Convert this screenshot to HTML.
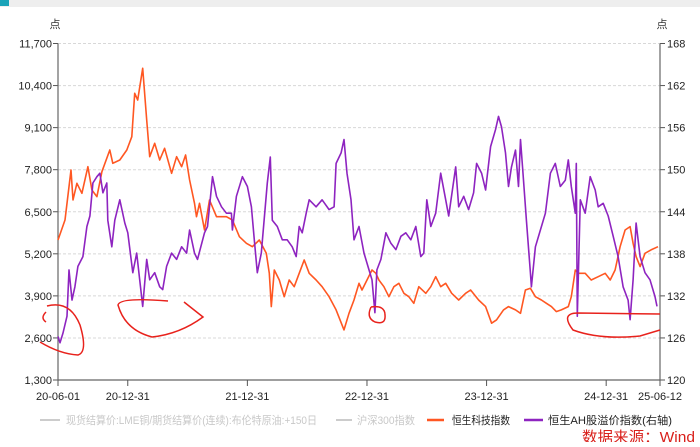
<!DOCTYPE html>
<html><head><meta charset="utf-8"><style>
html,body{margin:0;padding:0;background:#fff;}
body{width:700px;height:442px;overflow:hidden;font-family:"Liberation Sans","Noto Sans CJK SC",sans-serif;}
</style></head><body>
<svg id="chart" width="700" height="442" viewBox="0 0 700 442" xmlns="http://www.w3.org/2000/svg" style="font-family:'Liberation Sans','Noto Sans CJK SC',sans-serif">
<rect x="0" y="0" width="700" height="7" fill="#eeeeee"/>
<rect x="0" y="0" width="9" height="6" fill="#1aa3b8"/>
<g id="grid"></g>
<g id="axes"></g>
<g id="series"></g>
<g id="notes" fill="none" stroke="#e8221c" stroke-width="1.5">
<path d="M46,312 Q40,318 46,322 M47,306 Q70,300 80,325 Q88,352 78,355 Q60,354 40,342"/>
<path d="M168,301 Q120,297 118,305 Q125,330 152,337 Q180,334 203,317 L184,302"/>
<path d="M371,307 Q385,305 385,315 Q386,325 375,322 Q366,318 371,307"/>
<path d="M578,313 Q560,313 573,330 Q600,340 640,336 L660,330 M578,313 L660,314"/>
</g>
<g id="legend" font-size="11">
<line x1="40" y1="420" x2="60" y2="420" stroke="#cccccc" stroke-width="2"/>
<text x="66" y="424" fill="#c8c8c8" textLength="251" lengthAdjust="spacingAndGlyphs">现货结算价:LME铜/期货结算价(连续):布伦特原油:+150日</text>
<line x1="336" y1="420" x2="352" y2="420" stroke="#cccccc" stroke-width="2"/>
<text x="357" y="424" fill="#c8c8c8" textLength="58" lengthAdjust="spacingAndGlyphs">沪深300指数</text>
<line x1="427" y1="420" x2="444" y2="420" stroke="#ff5722" stroke-width="2.5"/>
<text x="452" y="424" fill="#222" textLength="58" lengthAdjust="spacingAndGlyphs">恒生科技指数</text>
<line x1="524" y1="420" x2="543" y2="420" stroke="#8e24c0" stroke-width="2.5"/>
<text x="548" y="424" fill="#222" textLength="124" lengthAdjust="spacingAndGlyphs">恒生AH股溢价指数(右轴)</text>
</g>
<text x="582" y="442" font-size="15" fill="#d9201b" textLength="113" lengthAdjust="spacingAndGlyphs">数据来源：Wind</text>
<text x="55" y="28" font-size="11" fill="#333" text-anchor="middle">点</text>
<text x="662" y="28" font-size="11" fill="#333" text-anchor="middle">点</text>
</svg>
<script>
const leftTicks=[1300,2600,3900,5200,6500,7800,9100,10400,11700];
const rightTicks=[120,126,132,138,144,150,156,162,168];
const dateLabels=["20-06-01","20-12-31","21-12-31","22-12-31","23-12-31","24-12-31","25-06-12"];
const dateMonths=[0,7,19,31,43,55,60.4];
// months since 2020-06-01
const techMonths=[0,0.7,1.3,1.5,1.9,2.4,3.0,3.4,3.9,4.4,5.2,5.5,6.2,6.9,7.4,7.7,8.0,8.5,8.9,9.2,9.7,10.2,10.7,11.4,11.9,12.4,12.8,13.2,13.7,13.9,14.2,14.7,15.2,15.9,16.9,17.5,18.2,18.9,19.5,20.2,20.9,21.2,21.4,21.7,22.2,22.7,23.2,23.7,24.2,24.7,25.2,25.9,26.5,27.2,27.9,28.7,29.2,29.7,30.2,30.5,31.0,31.5,31.9,32.2,32.7,33.2,33.7,34.2,34.7,35.2,35.7,36.2,36.9,37.4,37.9,38.4,38.9,39.5,40.2,40.9,41.4,42.2,42.9,43.5,44.0,44.7,45.2,45.9,46.4,46.9,47.4,47.9,48.5,49.0,49.5,50.0,50.5,51.2,51.5,51.9,52.2,52.9,53.5,54.2,54.9,55.4,55.9,56.4,56.9,57.4,57.7,58.0,58.4,58.9,59.5,60.2];
const techValues=[5628,6246,7791,6864,7380,7071,7893,7173,6966,7739,8409,7998,8100,8409,8820,10161,9954,10934,9336,8202,8616,8100,8461,7689,8202,7893,8255,7482,6762,6348,6762,5937,6864,6348,6348,6246,5730,5526,5421,5628,5217,4599,3567,4701,4392,3876,4392,4185,4599,5010,4599,4392,4185,3876,3465,2847,3363,3774,4290,4083,4392,4701,4599,4392,4185,3876,4185,4290,3981,3876,3672,4185,3981,4185,4494,4185,4290,3981,3774,3981,4083,3774,3567,3054,3156,3465,3567,3465,3363,4083,4134,3876,3774,3672,3567,3414,3465,3567,3876,4701,4599,4599,4392,4494,4599,4392,4701,5421,5937,6040,5526,5114,4804,5217,5320,5421];
const ahMonths=[0,0.2,0.5,0.9,1.1,1.4,1.7,2.0,2.5,2.9,3.2,3.5,3.9,4.2,4.5,4.9,5.0,5.4,5.7,6.2,6.7,7.0,7.5,7.9,8.2,8.5,8.9,9.2,9.7,10.2,10.5,10.9,11.4,11.9,12.4,12.9,13.2,13.7,14.0,14.7,15.0,15.5,15.9,16.4,16.9,17.4,17.5,17.9,18.5,19.0,19.4,19.7,20.0,20.4,21.0,21.3,21.5,22.0,22.5,23.0,23.5,23.9,24.2,24.5,24.9,25.2,25.9,26.5,27.2,27.7,27.9,28.4,28.7,29.0,29.4,29.7,30.2,30.7,31.2,31.5,31.8,32.0,32.4,32.9,33.4,33.9,34.4,34.9,35.4,35.9,36.4,36.7,37.0,37.4,37.9,38.4,38.9,39.2,39.9,40.2,40.7,41.2,41.7,42.0,42.5,42.9,43.4,43.9,44.2,44.5,44.9,45.2,45.5,45.9,46.2,46.4,46.7,47.0,47.4,47.5,47.9,48.4,48.9,49.4,49.9,50.4,50.9,51.2,51.5,51.9,52.0,52.1,52.4,52.9,53.4,53.9,54.2,54.7,55.2,55.7,56.2,56.7,57.2,57.4,57.7,58.0,58.4,58.9,59.4,59.9,60.1];
const ahValues=[126.2,125.3,126.7,129.1,135.7,131.4,133.3,136.2,137.6,141.9,143.4,148.1,149.0,149.5,146.7,148.1,142.8,139.0,142.8,145.7,142.4,141.0,135.3,138.1,134.3,130.5,137.2,134.3,135.3,133.3,132.9,136.2,138.1,137.2,139.0,138.1,141.4,138.1,137.2,141.0,141.9,149.0,146.2,144.7,143.8,143.8,141.4,146.2,149.0,147.6,144.7,140.0,135.3,138.1,148.1,151.8,142.8,141.9,140.0,140.0,139.0,137.6,141.9,141.0,143.8,145.7,144.7,145.7,144.3,144.7,150.9,152.4,154.3,149.5,145.7,140.0,141.9,138.1,135.7,134.3,129.6,135.7,137.2,141.0,139.5,138.6,140.5,141.0,140.0,141.9,137.6,138.1,145.7,141.9,143.8,149.5,145.7,143.4,150.4,144.7,146.2,144.3,146.7,150.9,149.5,147.1,153.3,155.7,157.6,156.1,152.4,147.6,150.4,152.8,147.6,154.3,148.5,142.8,135.3,133.3,139.0,141.4,143.8,149.5,150.9,147.6,148.5,151.4,147.6,143.8,150.9,129.1,145.7,143.8,149.0,147.1,144.7,145.2,143.4,140.5,137.6,133.3,131.4,128.6,134.3,142.4,137.6,135.3,134.3,131.9,130.5];

const X0=58,X1=660,Y0=380,Y1=43.5,NS="http://www.w3.org/2000/svg";
const xScale=m=>X0+m*(X1-X0)/60.4;
const yL=v=>Y0-(v-1300)*(Y0-Y1)/(11700-1300);
const yR=v=>Y0-(v-120)*(Y0-Y1)/(168-120);
function mk(tag,attrs,parent){const e=document.createElementNS(NS,tag);for(const k in attrs)e.setAttribute(k,attrs[k]);parent.appendChild(e);return e;}
const grid=document.getElementById('grid'),axes=document.getElementById('axes'),ser=document.getElementById('series');
leftTicks.forEach((v,i)=>{
  const y=yL(v);
  if(i>0){const g=mk('line',{x1:X0,x2:X1,y1:y,y2:y,stroke:'#d8d8d8','stroke-dasharray':'3,2'},grid);
  
  }
  const t=mk('line',{x1:X0-5,x2:X0,y1:y,y2:y,stroke:'#555'},axes);
  
  
  const l=mk('text',{x:X0-6,y:y+4,'font-size':11,'text-anchor':'end',fill:'#222'},axes);
  l.textContent=v.toLocaleString('en-US');
  
  
});
rightTicks.forEach(v=>{
  const y=yR(v);
  const t=mk('line',{x1:X1,x2:X1+5,y1:y,y2:y,stroke:'#555'},axes);
  
  
  const l=mk('text',{x:X1+7,y:y+4,'font-size':11,fill:'#222'},axes);
  l.textContent=v;
  
  
});
const la=mk('line',{x1:X0,x2:X0,y1:Y1,y2:Y0,stroke:'#666','stroke-width':1.2},axes);


const ra=mk('line',{x1:X1,x2:X1,y1:Y1,y2:Y0,stroke:'#666','stroke-width':1.2},axes);


const xa=mk('line',{x1:X0,x2:X1,y1:Y0,y2:Y0,stroke:'#666','stroke-width':1.2},axes);


dateLabels.forEach((d,i)=>{
  const x=xScale(dateMonths[i]);
  const t=mk('line',{x1:x,x2:x,y1:Y0,y2:Y0+6,stroke:'#555'},axes);
  
  
  const l=mk('text',{x:x,y:400,'font-size':11,'text-anchor':'middle',fill:'#222'},axes);
  l.textContent=d;
  
  
});
const tp=mk('polyline',{points:techMonths.map((m,i)=>xScale(m).toFixed(1)+','+yL(techValues[i]).toFixed(1)).join(' '),fill:'none',stroke:'#ff5722','stroke-width':1.6,'stroke-linejoin':'round'},ser);


const ap=mk('polyline',{points:ahMonths.map((m,i)=>xScale(m).toFixed(1)+','+yR(ahValues[i]).toFixed(1)).join(' '),fill:'none',stroke:'#8e24c0','stroke-width':1.6,'stroke-linejoin':'round'},ser);


</script>
</body></html>
